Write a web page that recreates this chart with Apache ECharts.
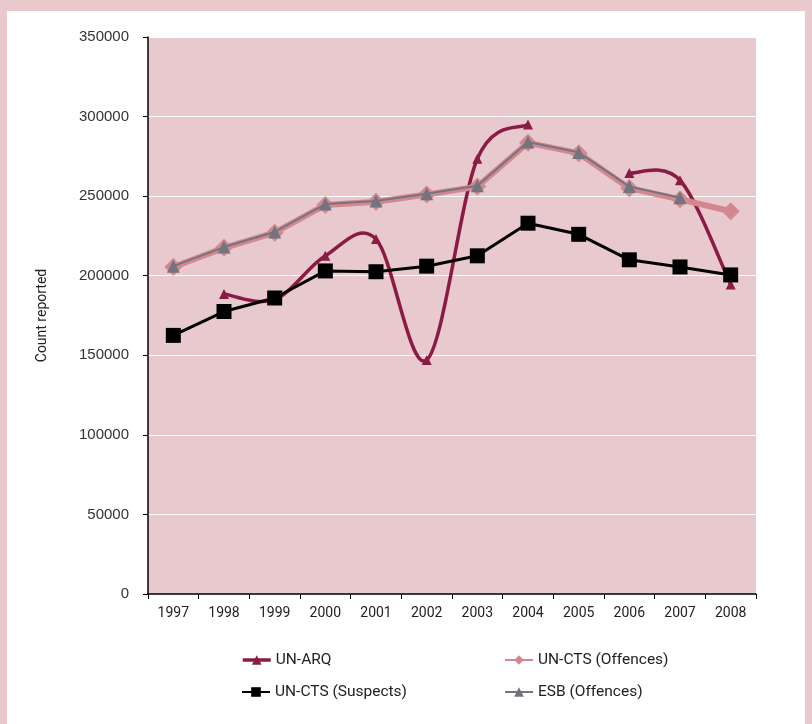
<!DOCTYPE html>
<html><head><meta charset="utf-8">
<script src="https://cdn.jsdelivr.net/npm/echarts@6/dist/echarts.min.js"></script>
<style>html,body{margin:0;padding:0;background:#EAC9CD;}#c{width:812px;height:724px;}</style>
</head><body><div id="c"></div>
<script>
const years = ['1997','1998','1999','2000','2001','2002','2003','2004','2005','2006','2007','2008'];
const unArq = [null, 188500, 185000, 212500, 223000, 147000, 273500, 295000, null, 264500, 260000, 194500];
const unCtsOffences = [205500, 217500, 227000, 244500, 246500, 251000, 256000, 283500, 277000, 255000, 248000, 240500];
const unCtsSuspects = [162500, 177500, 186000, 203000, 202500, 206000, 212500, 233000, 226000, 210000, 205500, 200500];
const esbOffences = [206000, 218000, 227500, 245000, 247000, 251500, 256500, 284000, 277500, 256000, 249000, null];
const yTicks = {min: 0, max: 350000, interval: 50000};

const ARQ_COLOR = '#8B1A44';
const chart = echarts.init(document.getElementById('c'));
const legendText = {fontFamily: 'Roboto', fontSize: 15.5, color: '#222'};

// Excel-style smoothed curve (Catmull-Rom -> cubic Bezier), built from data via axis coords
function arqRender(params, api) {
  const segs = []; let cur = [];
  unArq.forEach((v, i) => {
    if (v == null) { if (cur.length) segs.push(cur); cur = []; }
    else cur.push(api.coord([i, v]));
  });
  if (cur.length) segs.push(cur);
  const children = [];
  segs.forEach(pts => {
    const n = pts.length;
    for (let i = 0; i < n - 1; i++) {
      const p0 = pts[Math.max(i - 1, 0)], p1 = pts[i], p2 = pts[i + 1], p3 = pts[Math.min(i + 2, n - 1)];
      children.push({
        type: 'bezierCurve',
        shape: {
          x1: p1[0], y1: p1[1], x2: p2[0], y2: p2[1],
          cpx1: p1[0] + (p2[0] - p0[0]) / 6, cpy1: p1[1] + (p2[1] - p0[1]) / 6,
          cpx2: p2[0] - (p3[0] - p1[0]) / 6, cpy2: p2[1] - (p3[1] - p1[1]) / 6
        },
        style: {stroke: ARQ_COLOR, lineWidth: 3.5, fill: null, lineCap: 'round'}
      });
    }
  });
  return {type: 'group', children: children};
}

chart.setOption({
  backgroundColor: '#EAC9CD',
  animation: false,
  graphic: [{type: 'rect', shape: {x: 7, y: 11, width: 798, height: 713}, style: {fill: '#ffffff'}, z: -10}],
  grid: {left: 148, top: 37, right: 56, bottom: 130, show: true, backgroundColor: '#E8C9CD', borderWidth: 0},
  legend: [
    {data: ['UN-ARQ'], left: 236, top: 647, textStyle: legendText, itemWidth: 28, itemHeight: 12, lineStyle: {opacity: 1, width: 3.5, color: ARQ_COLOR}},
    {data: ['UN-CTS (Offences)'], left: 499, top: 647, textStyle: legendText, itemWidth: 28, itemHeight: 12},
    {data: ['UN-CTS (Suspects)'], left: 236, top: 679, textStyle: legendText, itemWidth: 28, itemHeight: 12},
    {data: ['ESB (Offences)'], left: 499, top: 679, textStyle: legendText, itemWidth: 28, itemHeight: 12}
  ],
  xAxis: {
    type: 'category', data: years, boundaryGap: true,
    axisLine: {lineStyle: {color: '#000', width: 1.5}},
    axisTick: {show: true, length: 5, lineStyle: {color: '#000'}},
    axisLabel: {fontFamily: 'Roboto', fontSize: 14, color: '#222', margin: 12}
  },
  yAxis: {
    type: 'value', min: yTicks.min, max: yTicks.max, interval: yTicks.interval,
    name: 'Count reported', nameLocation: 'middle', nameGap: 99, nameRotate: 90,
    nameTextStyle: {fontFamily: 'Roboto', fontSize: 14, color: '#222'},
    axisLine: {show: true, lineStyle: {color: '#000', width: 1.5}},
    axisTick: {show: true, length: 5, lineStyle: {color: '#000'}},
    axisLabel: {fontFamily: 'Liberation Sans', fontSize: 15, color: '#333', margin: 19, formatter: v => String(v)},
    splitLine: {show: true, lineStyle: {color: '#ffffff', width: 1.2}}
  },
  series: [
    {name: 'UN-ARQ curve', type: 'custom', data: [[1, unArq[1]]], renderItem: arqRender, z: 2, silent: true},
    {name: 'UN-ARQ', type: 'line', data: unArq, connectNulls: false,
     symbol: 'triangle', symbolSize: 10, itemStyle: {color: ARQ_COLOR},
     lineStyle: {color: ARQ_COLOR, width: 3.5, opacity: 0}, z: 2},
    {name: 'UN-CTS (Offences)', type: 'line', data: unCtsOffences,
     symbol: 'diamond', symbolSize: 18, itemStyle: {color: '#D4878E'},
     lineStyle: {color: '#D4878E', width: 6}, z: 3},
    {name: 'UN-CTS (Suspects)', type: 'line', data: unCtsSuspects,
     symbol: 'rect', symbolSize: 15, itemStyle: {color: '#000'},
     lineStyle: {color: '#000', width: 3}, z: 4},
    {name: 'ESB (Offences)', type: 'line', data: esbOffences,
     symbol: 'triangle', symbolSize: 13, itemStyle: {color: '#72757F'},
     lineStyle: {color: '#72757F', width: 2}, z: 5}
  ]
});
</script></body></html>
